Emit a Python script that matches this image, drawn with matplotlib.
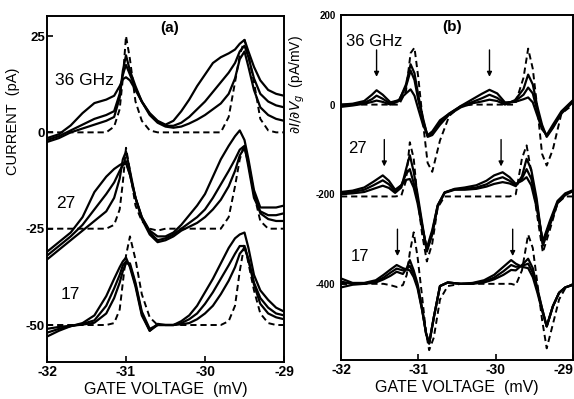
import matplotlib.pyplot as plt
import numpy as np

plt.rcParams["font.family"] = ["Liberation Sans", "DejaVu Sans"]
plt.rcParams["mathtext.fontset"] = "dejavusans"
plt.rcParams["axes.unicode_minus"] = False


# ##### Panel (a): current vs gate voltage #####

va = [-32.0, -31.85, -31.7, -31.55, -31.4, -31.25, -31.15, -31.08, -31.04,
      -31.0, -30.95, -30.88, -30.8, -30.7, -30.6, -30.5, -30.4, -30.3, -30.2,
      -30.1, -30.0, -29.9, -29.8, -29.7, -29.62, -29.56, -29.5, -29.45,
      -29.38, -29.3, -29.2, -29.1, -29.0]

# curves are relative to their own baseline, offsets give the stacking
offsets_a = [0, -25, -50]

# 36 GHz: dashed = no microwaves, p1 = highest power
a36_dark = [0, 0, 0, 0, 0, 0, 1.5, 6, 14, 25, 19, 8, 3, 0.5, 0, 0, 0, 0, 0, 0,
            0, 0, 0, 4, 13, 20, 24, 20, 13, 3.5, 0.5, 0, 0]
a36_p1 = [-1.5, -0.5, 1.8, 5, 7.6, 8.5, 9.5, 12, 13.8, 14.3, 13.5, 11, 8, 5, 3,
          2, 3, 5.5, 8.5, 12, 15, 18, 19.5, 20.5, 21.5, 23, 24, 21, 17, 13.5,
          11, 10, 9.5]
a36_p2 = [-2, -1, 0.5, 2, 3.5, 4.5, 5.5, 10, 15, 17.5, 15, 11.5, 8, 4.8, 2.8,
          1.7, 1.7, 2.5, 4, 6, 8, 10.5, 13, 15.5, 18, 21, 22.5, 19.5, 14, 10,
          8, 7, 6.5]
a36_p3 = [-2.5, -1.5, 0, 1, 2, 3, 4, 9, 16, 20, 16, 12, 8, 4.5, 2.5, 1.5, 1.2,
          1.5, 2.3, 3.3, 4.5, 6, 7.5, 10, 14, 19, 21, 17, 11, 6.5, 4.5, 3.5, 3]

# 27 GHz
a27_dark = [0, 0, 0, 0, 0, 0, 1, 5, 12, 21, 15, 6, 2, 0, -0.5, 0, 0, 0, 0, 0,
            0, 0, 0, 3, 11, 18, 22, 17, 9, 2, 0, 0, 0]
a27_p1 = [-6, -3.5, -1, 3, 9.5, 13.5, 15.5, 16.5, 17, 17.5, 14, 8, 3, -0.5, -2,
          -2, -1, 1, 3.5, 6, 9, 13.5, 18, 21.5, 24, 25.5, 23, 18, 10, 5.5, 5.5,
          5.5, 6]
a27_p2 = [-7, -4.5, -2, 1, 5, 9, 12, 15, 16.5, 17, 14, 8, 3, -1, -3, -2.5,
          -1.5, 0, 1.5, 3, 5, 8, 11.5, 15, 18, 20.5, 21.5, 16, 8, 4.5, 3.5,
          3.5, 4]
a27_p3 = [-8, -5.5, -3, -0.5, 2, 4.5, 8, 13, 18, 20, 15, 8, 2.5, -1.5, -3.5,
          -3, -2, -0.5, 0.5, 1.5, 3, 5, 7.5, 11, 15, 19, 21, 17, 9, 4, 2.5, 2,
          2]

# 17 GHz
a17_dark = [0, 0, 0, 0, 0, 0, 0.5, 4, 11, 18, 23, 17, 8, 2, 0, 0, 0, 0, 0, 0,
            0, 0, 0, 1, 5, 14, 21, 16, 9, 3, 0.5, 0, 0]
a17_p1 = [-3, -1.5, -0.3, 0.5, 2.5, 7.5, 12, 15, 16.5, 17.5, 15, 10, 2.5, -1.5,
          0.3, 0, 0, 1, 2.5, 5, 8.5, 12, 16, 20, 22.5, 23.5, 24, 20, 13, 9,
          6.5, 4.5, 3.5]
a17_p2 = [-2, -1, -0.3, 0.3, 1.2, 5, 9.5, 13, 15.5, 16.5, 15.5, 10.5, 3, -1.5,
          0, 0, 0, 0.5, 1.5, 3, 5.5, 8.5, 12, 15.5, 18.5, 20.5, 20.5, 17, 11,
          7, 4.5, 3, 2.5]
a17_p3 = [-1, -0.5, -0.2, 0.1, 0.6, 3, 7, 11, 14, 16, 16, 11, 3.5, -1, 0, 0,
          0, 0.2, 0.5, 1.5, 3, 5, 8, 11.5, 15, 18.5, 20, 17, 10.5, 5.5, 3, 2,
          1.5]


# ##### Panel (b): dI/dVg #####

offsets_b = [0, -200, -400]

vb36 = [-32.0, -31.85, -31.7, -31.6, -31.54, -31.46, -31.36, -31.25, -31.16,
        -31.1, -31.05, -31.0, -30.94, -30.88, -30.82, -30.72, -30.6, -30.45,
        -30.3, -30.18, -30.08, -29.98, -29.88, -29.75, -29.64, -29.58, -29.52,
        -29.46, -29.4, -29.34, -29.26, -29.15, -29.0]
b36_dark = [0, 0, 0, 0, 0, 0, 0, 0, 30, 115, 127, 60, -40, -130, -150, -80,
            -25, -3, 0, 0, 0, 0, 0, 0, 60, 125, 80, -10, -110, -136, -100,
            -20, 0]
b36_p1 = [0, 2, 8, 22, 32, 22, 5, 10, 25, 34, 20, -10, -45, -68, -60, -35,
          -20, -3, 12, 24, 33, 25, 5, 6, 12, 16, 5, -25, -55, -68, -45, -15,
          10]
b36_p2 = [-3, 0, 4, 12, 20, 13, 2, 10, 40, 76, 55, 10, -35, -70, -65, -40,
          -20, -4, 6, 14, 22, 15, 2, 8, 22, 38, 25, -15, -50, -70, -50, -18, 8]
b36_p3 = [-5, -2, 2, 6, 9, 6, 0, 8, 45, 90, 70, 20, -30, -72, -68, -45, -22,
          -6, 3, 7, 11, 8, 0, 10, 35, 67, 45, -5, -45, -72, -52, -20, 6]

vb27 = [-32.0, -31.85, -31.7, -31.58, -31.46, -31.38, -31.3, -31.22, -31.16,
        -31.11, -31.06, -31.01, -30.95, -30.89, -30.82, -30.75, -30.66, -30.53,
        -30.4, -30.25, -30.12, -30.02, -29.91, -29.82, -29.74, -29.66, -29.6,
        -29.54, -29.47, -29.39, -29.3, -29.2, -29.1, -29.0]
b27_dark = [-5, -5, -5, -5, -5, -5, -5, -3, 30, 116, 80, -10, -90, -150, -110,
            -30, -5, -5, -5, -5, -5, -5, -5, -5, 0, 80, 109, 50, -40, -130,
            -80, -20, -5, -5]
b27_p1 = [5, 8, 15, 28, 42, 30, 10, 20, 32, 34, 15, -20, -75, -120, -80, -25,
          4, 12, 15, 20, 30, 42, 49, 38, 23, 30, 38, 20, -30, -105, -60, -15,
          2, 9]
b27_p2 = [2, 5, 10, 20, 31, 22, 6, 20, 45, 56, 25, -10, -70, -125, -85, -25,
          4, 11, 12, 15, 22, 32, 38, 30, 20, 35, 56, 35, -20, -110, -65, -18,
          0, 8]
b27_p3 = [0, 2, 5, 12, 19, 14, 3, 15, 55, 87, 50, 0, -65, -128, -90, -28, 3,
          10, 10, 12, 17, 23, 27, 24, 18, 40, 79, 55, -10, -115, -70, -20, -2,
          7]

vb17 = [-32.0, -31.85, -31.7, -31.55, -31.45, -31.36, -31.28, -31.2, -31.15,
        -31.11, -31.06, -31.01, -30.95, -30.9, -30.86, -30.8, -30.72, -30.62,
        -30.45, -30.3, -30.15, -30.02, -29.9, -29.8, -29.74, -29.66, -29.58,
        -29.52, -29.46, -29.4, -29.34, -29.26, -29.18, -29.1, -29.0]
b17_dark = [0, 0, 0, 0, 0, -3, -7, -3, 20, 70, 115, 60, -30, -110, -148, -120,
            -35, -5, 0, 0, 0, 0, 0, 0, -3, 30, 110, 80, 0, -80, -144, -90, -35,
            -10, 0]
b17_p1 = [12, 2, 2, 8, 20, 32, 42, 35, 32, 30, 15, -10, -60, -110, -133, -75,
          -5, 3, 0, 2, 8, 20, 38, 53, 45, 38, 35, 15, -20, -60, -95, -50, -20,
          -8, -2]
b17_p2 = [5, 0, 1, 5, 14, 25, 34, 30, 33, 40, 22, -5, -58, -110, -133, -75,
          -5, 3, 0, 1, 5, 14, 28, 42, 38, 40, 45, 25, -15, -55, -95, -50, -20,
          -8, -2]
b17_p3 = [-8, -2, 0, 3, 10, 18, 27, 22, 35, 53, 30, 0, -55, -112, -133, -75,
          -5, 3, 0, 0, 3, 10, 20, 31, 30, 42, 56, 35, -10, -55, -95, -50, -20,
          -8, -2]

# sideband positions marked with arrows in (b)
arrow_v36 = [-31.54, -30.08]
arrow_v27 = [-31.44, -29.93]
arrow_v17 = [-31.27, -29.78]

freq_labels = ["36 GHz", "27", "17"]


# ##### Make plot #####

W, H = 574, 399
fig = plt.figure(figsize=(W/100, H/100), dpi=100)

ax_a = fig.add_axes([47/W, 1-362/H, (284-47)/W, (362-16)/H])
ax_b = fig.add_axes([341/W, 1-360/H, (573-341)/W, (360-15)/H])

solid_kw = dict(color="black", lw=1.6, solid_joinstyle="round")
dash_kw = dict(color="black", lw=1.4, ls=(0, (3.2, 2.0)))

groups_a = [(a36_dark, [a36_p1, a36_p2, a36_p3]),
            (a27_dark, [a27_p1, a27_p2, a27_p3]),
            (a17_dark, [a17_p1, a17_p2, a17_p3])]

for off, (dark, lit) in zip(offsets_a, groups_a):
    for y in lit:
        ax_a.plot(va, np.array(y) + off, **solid_kw)
    ax_a.plot(va, np.array(dark) + off, **dash_kw)

groups_b = [(vb36, b36_dark, [b36_p1, b36_p2, b36_p3], arrow_v36),
            (vb27, b27_dark, [b27_p1, b27_p2, b27_p3], arrow_v27),
            (vb17, b17_dark, [b17_p1, b17_p2, b17_p3], arrow_v17)]

for off, (vb, dark, lit, arr) in zip(offsets_b, groups_b):
    for y in lit:
        ax_b.plot(vb, np.array(y) + off, **solid_kw)
    ax_b.plot(vb, np.array(dark) + off, **dash_kw)
    for v in arr:
        ax_b.annotate("", xy=(v, off + 62), xytext=(v, off + 122),
                      arrowprops=dict(arrowstyle="-|>", color="black", lw=1.0,
                                      mutation_scale=7, shrinkA=0, shrinkB=0))

ax_a.set_xlim(-32, -29)
ax_a.set_ylim(-59.6, 30.2)
ax_b.set_xlim(-32, -29)
ax_b.set_ylim(-570, 200)

for ax in (ax_a, ax_b):
    ax.set_xticks([-32, -31, -30, -29])
    ax.set_xticklabels(["-32", "-31", "-30", "-29"])
    for s in ax.spines.values():
        s.set_linewidth(1.4)
    ax.tick_params(direction="in", length=4, width=1.2)
    ax.tick_params(axis="x", labelsize=10, pad=2)
    for lab in ax.get_xticklabels() + ax.get_yticklabels():
        lab.set_fontweight("bold")
    ax.set_xlabel("GATE VOLTAGE  (mV)", fontsize=11.5, labelpad=2)

# last tick label of (b) sits on the figure edge; keep it inside
ax_b.get_xticklabels()[-1].set_horizontalalignment("right")

ax_a.set_yticks([-50, -25, 0, 25])
ax_a.set_yticklabels(["-50", "-25", "0", "25"], fontweight="bold")
ax_a.tick_params(axis="y", labelsize=9.5, pad=1.5)
ax_b.set_yticks([-400, -200, 0, 200])
ax_b.set_yticklabels(["-400", "-200", "0", "200"], fontweight="bold")
ax_b.tick_params(axis="y", labelsize=7, pad=4)

fig.text(13/W, 1-121/H, "CURRENT  (pA)", rotation=90, fontsize=10.5,
         ha="center", va="center")
fig.text(297/W, 1-85/H, r"$\partial I/\partial V_g$  (pA/mV)", rotation=90,
         fontsize=10, ha="center", va="center")

ax_a.text(-30.45, 27, "(a)", fontsize=11, fontweight="bold",
          ha="center", va="center")
ax_b.text(-30.57, 173, "(b)", fontsize=11, fontweight="bold",
          ha="center", va="center")

lab_pos_a = [(-31.9, 13.5), (-31.88, -18.4), (-31.83, -42)]
lab_pos_b = [(-31.94, 140), (-31.91, -97), (-31.88, -340)]
for txt, pa, pb in zip(freq_labels, lab_pos_a, lab_pos_b):
    ax_a.text(pa[0], pa[1], txt, fontsize=12.5, ha="left", va="center")
    ax_b.text(pb[0], pb[1], txt, fontsize=12, ha="left", va="center")

fig.savefig("out.png", dpi=100)
